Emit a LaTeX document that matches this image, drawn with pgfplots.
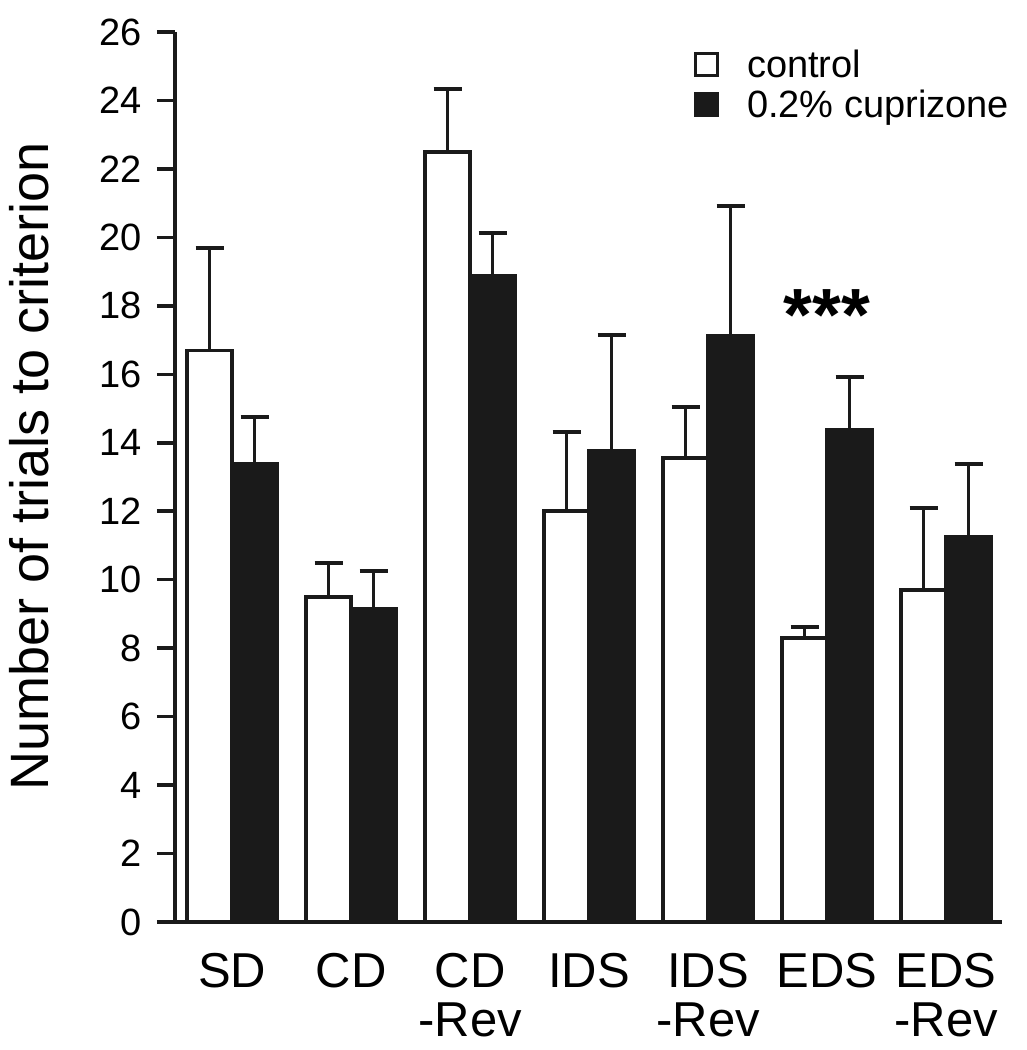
\documentclass[border=0pt]{standalone}
\usepackage{fontspec}
\setmainfont{Liberation Sans}
\usepackage{pgfplots}
\usepackage{pgfplotstable}
\pgfplotsset{compat=1.18}
\definecolor{barblack}{HTML}{1A1A1A}
\pgfplotstableread{
x c ce k ke
0 16.69 2.99 13.40 1.34
1 9.49 1.00 9.14 1.11
2 22.49 1.85 18.87 1.26
3 12.00 2.31 13.76 3.39
4 13.56 1.49 17.12 3.80
5 8.29 0.32 14.39 1.54
6 9.70 2.40 11.26 2.12
}\data
\begin{document}
\begin{tikzpicture}
\useasboundingbox (-175pt,-128pt) rectangle (851pt,922pt);
\begin{axis}[
  at={(0,0)}, anchor=south west,
  scale only axis, width=827pt, height=890pt,
  xmin=-0.48, xmax=6.47, ymin=0, ymax=26,
  axis x line*=bottom, axis y line*=left,
  axis line style={line width=3.5pt, color=barblack},
  ytick={0,2,...,26},
  xtick={0,...,6},
  xticklabels={SD, CD, {CD\\-Rev}, IDS, {IDS\\-Rev}, EDS, {EDS\\-Rev}},
  x tick style={draw=none},
  y tick style={line width=3.5pt, color=barblack},
  tick align=outside, major tick length=18pt,
  /pgf/number format/assume math mode=true,
  yticklabel style={font=\fontsize{38}{40}\selectfont, inner sep=0pt, xshift=-15pt},
  xticklabel style={font=\fontsize{49}{49}\selectfont, align=center, anchor=north, inner sep=0pt, yshift=-13pt},
  ylabel={Number of trials to criterion},
  ylabel style={font=\fontsize{54}{54}\selectfont, at={(axis description cs:-0.153,0.512)}, anchor=base},
  ybar, bar width=0.378,
  legend style={at={(axis cs:3.88,25.55)}, anchor=north west, draw=none, fill=none,
    font=\fontsize{38}{40}\selectfont, inner sep=0pt, row sep=7pt,
    /tikz/every odd column/.append style={column sep=26pt}},
  legend cell align=left,
  clip=false,
]
\addplot[ybar, bar shift=-0.189, fill=white, draw=barblack, line width=3.5pt,
  legend image code/.code={\draw[fill=white, draw=barblack, line width=3pt] (0pt,-11pt) rectangle (22pt,11pt);},
  error bars/.cd, y dir=plus, y explicit,
  error bar style={line width=3.5pt, color=barblack},
  error mark options={rotate=90, mark size=14pt, line width=4pt, color=barblack}]
  table[x=x, y=c, y error=ce] {\data};
\addlegendentry{control}
\addplot[ybar, bar shift=0.189, fill=barblack, draw=barblack, line width=3.5pt,
  legend image code/.code={\draw[fill=barblack, draw=barblack, line width=3pt] (0pt,-11pt) rectangle (22pt,11pt);},
  error bars/.cd, y dir=plus, y explicit,
  error bar style={line width=3.5pt, color=barblack},
  error mark options={rotate=90, mark size=14pt, line width=4pt, color=barblack}]
  table[x=x, y=k, y error=ke] {\data};
\addlegendentry{0.2\% cuprizone}
\node[font=\fontsize{74}{74}\selectfont\bfseries, anchor=center] at (axis cs:5,17.72) {***};
\end{axis}
\end{tikzpicture}
\end{document}
